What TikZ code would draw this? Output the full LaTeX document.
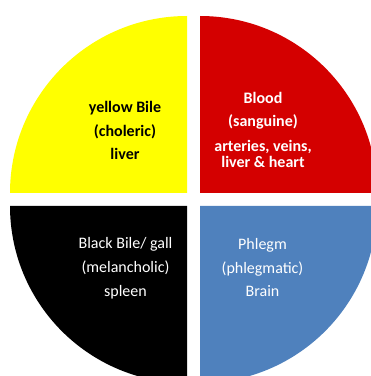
\documentclass[tikz,border=0pt]{standalone}
\usepackage{fontspec}
\setmainfont{Carlito}
\usepackage{xcolor}
\definecolor{cYellow}{HTML}{FFFF00}
\definecolor{cRed}{HTML}{D40000}
\definecolor{cBlack}{HTML}{000000}
\definecolor{cBlue}{HTML}{4F81BD}
\usetikzlibrary{positioning}
\tikzset{
  humour-text/.style={align=center,anchor=base,
    font=\fontsize{16}{24}\selectfont},
  % top half: bold labels, bottom half: regular labels
  humour-bold/.style={humour-text,font=\fontsize{16}{24}\selectfont\bfseries},
  humour-light/.style={text=white},
}

\begin{document}
\begin{tikzpicture}[x=1pt,y=1pt]
  \useasboundingbox (0,0) rectangle (371,376);
  \clip (0,0) rectangle (371,376);
  \foreach \col/\cx/\cy/\a in {cYellow/187/183/90, cRed/200/183/0,
                               cBlack/187/170/180, cBlue/200/170/270} {
    \fill[\col] (\cx,\cy) -- ++(\a:177pt)
      arc[start angle=\a,end angle=\a+90,radius=177pt] -- cycle;
  }
  % base anchor sits on the last line
  \node[humour-bold] (yellowBile) at (125,216) {yellow Bile\\(choleric)\\liver};
  \node[humour-bold,humour-light] (blood) at (263,208)
    {Blood\\(sanguine)\\arteries, veins,\\[-7pt]liver \& heart};
  \node[humour-text,humour-light] (blackBile) at (125.5,79.3)
    {Black Bile/ gall\\(melancholic)\\spleen};
  \node[humour-text,humour-light] (phlegm) at (262.5,79)
    {Phlegm\\(phlegmatic)\\Brain};
\end{tikzpicture}
\end{document}
